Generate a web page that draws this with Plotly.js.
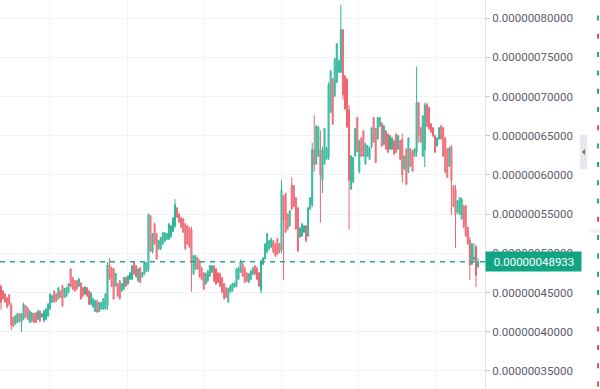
<!DOCTYPE html>
<html>
<head>
<meta charset="utf-8">
<script src="https://cdn.plot.ly/plotly-3.0.1.min.js"></script>
<style>html,body{margin:0;padding:0;background:#fff;}#chart{width:600px;height:389px;}</style>
</head>
<body>
<div id="chart"></div>
<script>
// Prices in units of 1e-9
const open = [458,452,448,443,447,434,418,410,412,423,412,416,433,430,412,414,423,424,416,426,419,414,416,420,429,438,452,448,442,452,458,444,446,451,480,469,465,465,458,462,456,448,456,452,435,432,426,439,426,429,429,429,434,485,481,480,458,461,465,452,455,469,461,467,467,488,484,465,481,470,474,477,479,548,502,537,525,506,506,512,516,518,518,521,528,535,558,550,545,544,537,535,532,530,474,480,494,490,481,475,461,465,471,476,484,480,475,474,469,461,456,438,451,452,457,458,467,476,486,481,475,463,467,474,484,481,475,453,486,493,502,506,508,516,512,518,512,504,573,576,550,535,587,586,571,558,521,522,527,535,522,557,562,632,614,624,632,593,614,620,622,680,722,701,718,731,731,785,726,722,683,582,591,624,673,604,647,656,614,624,620,636,673,659,646,662,666,639,656,652,633,633,643,652,633,643,645,608,633,604,633,630,624,629,692,660,624,632,690,686,665,660,650,637,646,662,660,647,633,611,636,586,581,553,550,544,560,560,533,517,486,492,508,483];
const high = [460,453,449,444,448,437,419,421,424,424,424,437,434,432,428,425,424,425,428,428,424,428,430,437,449,447,453,449,457,453,460,456,457,462,481,470,466,466,469,463,457,458,457,453,451,443,441,441,438,438,443,449,489,494,483,481,475,462,466,462,470,470,472,476,485,489,485,481,483,476,489,489,551,549,526,539,526,517,521,527,527,526,539,536,546,569,559,551,546,545,539,536,534,534,498,498,495,492,483,476,475,479,485,485,485,481,476,475,470,462,457,456,460,462,463,481,483,492,488,483,476,475,479,483,485,483,476,492,495,513,526,517,520,517,513,520,513,593,574,577,551,555,597,587,572,559,534,539,536,536,559,572,641,676,664,662,657,636,660,636,718,734,724,749,768,747,817,786,727,724,689,625,623,660,674,645,648,657,641,638,636,661,674,660,674,674,667,664,657,653,651,648,645,653,651,645,653,625,634,648,634,632,634,738,693,661,676,692,692,687,666,661,651,648,661,664,661,648,634,636,638,587,587,568,572,571,562,562,534,521,513,513,511,494];
const low = [428,441,437,430,433,402,406,409,411,412,400,415,418,415,411,412,411,411,415,412,418,412,415,419,428,437,437,438,441,443,432,443,444,449,457,453,451,453,457,441,444,447,444,434,434,430,425,424,425,428,428,428,428,466,457,441,457,444,441,451,453,457,460,466,466,472,469,463,462,469,472,476,476,502,500,511,492,504,504,511,514,517,517,520,527,532,545,539,532,526,504,511,507,451,472,479,479,469,466,453,460,463,470,475,463,460,462,457,449,441,443,437,449,451,456,457,466,475,470,462,463,462,466,472,472,466,457,449,485,492,500,504,507,500,495,498,500,500,466,526,530,534,555,559,530,502,520,521,526,514,521,555,559,604,613,623,539,577,613,619,619,679,664,699,717,730,730,696,683,660,530,581,590,623,629,602,623,623,613,623,619,634,641,615,645,661,636,638,632,628,632,632,625,628,632,619,590,606,587,602,610,604,623,623,641,641,623,610,661,657,653,648,628,636,645,645,623,602,596,610,549,559,507,551,549,543,532,521,511,466,485,491,457,481];
const close = [437,442,438,432,435,409,407,420,423,414,423,435,419,416,426,424,412,412,426,414,423,426,429,435,448,446,438,439,456,444,433,455,456,461,458,455,452,455,467,442,446,457,446,435,449,442,439,425,437,437,442,448,485,469,458,442,474,446,442,461,469,458,471,475,484,474,470,480,463,475,488,488,549,503,525,512,493,516,520,526,526,525,537,535,545,562,546,540,534,527,506,512,508,489,497,497,480,470,467,455,474,477,484,484,465,461,463,458,451,442,444,455,458,461,462,480,481,490,471,463,465,474,477,481,474,467,458,490,494,512,525,516,518,502,497,499,502,581,543,527,531,554,557,560,531,503,532,537,535,516,558,571,632,613,662,661,600,632,659,634,715,732,665,748,767,745,785,702,684,661,593,624,622,659,630,643,624,624,639,637,634,660,642,616,673,673,637,662,633,629,650,647,627,629,650,620,600,624,588,647,611,605,633,692,651,642,675,689,662,659,655,650,629,647,660,646,624,604,597,634,593,560,549,567,571,569,534,522,512,485,512,495,472,489.33];

const yTicks = [350,400,450,500,550,600,650,700,750,800];
const fmt = v => (v * 1e-9).toFixed(11);
const lastPrice = close[close.length - 1];
const idx = open.map((_, i) => i);

const GREEN = '#22ab94', RED = '#e8505e';

const trace = {
  type: 'candlestick',
  x: idx, open: open, high: high, low: low, close: close,
  increasing: {line: {color: '#2db497', width: 1}, fillcolor: '#7ddcc4'},
  decreasing: {line: {color: '#ec6470', width: 1}, fillcolor: '#f7a8ae'},
  whiskerwidth: 0,
  hoverinfo: 'none'
};

const shapes = [];
shapes.push({type:'line', xref:'paper', yref:'y', x0:0, x1:1, y0:lastPrice, y1:lastPrice,
  line:{color:GREEN, width:1.5, dash:'5px,5px'}});
const px = p => p / 485;
const py = p => 1 - p / 389;
shapes.push({type:'rect', xref:'paper', yref:'paper', x0:px(580), x1:px(587), y0:py(169), y1:py(135),
  fillcolor:'#e6e8ee', line:{width:0}});
shapes.push({type:'path', xref:'paper', yref:'paper',
  path:`M ${px(585)} ${py(149)} L ${px(582)} ${py(152)} L ${px(585)} ${py(155)} Z`,
  fillcolor:'#6b6e78', line:{width:0}});
shapes.push({type:'rect', xref:'paper', yref:'paper', x0:px(588), x1:px(600), y0:py(233), y1:py(229),
  fillcolor:'#f0f3fa', line:{width:0}});
const dashColors = ['g','r','g','g','g','g','r','g','g','g','g','r','g','g','g','g','g','r','r','r','r'];
dashColors.forEach((c, k) => {
  const yc = 18 + k * 18.3;
  shapes.push({type:'rect', xref:'paper', yref:'paper', x0:px(597), x1:px(599), y0:py(yc+2.5), y1:py(yc-2.5),
    fillcolor: c === 'g' ? GREEN : RED, line:{width:0}});
});

const layout = {
  width: 600, height: 389,
  margin: {l: 0, r: 115, t: 0, b: 0},
  paper_bgcolor: '#ffffff', plot_bgcolor: '#ffffff',
  showlegend: false,
  boxgap: 0.3,
  font: {family: 'Roboto, "Open Sans", sans-serif', size: 11, color: '#4f525d'},
  xaxis: {
    range: [-0.5, 236.4], rangeslider: {visible: false},
    showticklabels: false, ticks: '', tick0: 23.9, dtick: 37.65,
    showgrid: true, gridcolor: '#f2f4f8', zeroline: false, showline: false, fixedrange: true
  },
  yaxis: {
    side: 'right', range: [327, 823],
    tickvals: yTicks, ticktext: yTicks.map(fmt),
    ticks: 'outside', ticklen: 4, tickcolor: '#c8cad0', tickwidth: 1,
    showline: true, linecolor: '#e0e3eb', linewidth: 1,
    showgrid: true, gridcolor: '#f0f3fa', zeroline: false,
    tickfont: {size: 11.5, color: '#5a5d68'}, fixedrange: true
  },
  shapes: shapes,
  annotations: [{
    xref: 'paper', yref: 'y', x: 1, y: lastPrice, xanchor: 'left', yanchor: 'middle',
    text: '\u00a0\u00a0' + fmt(lastPrice), showarrow: false,
    bgcolor: '#13a583', borderpad: 2, width: 91, height: 15, align: 'left',
    font: {color: '#ffffff', size: 11.5}
  }]
};

Plotly.newPlot('chart', [trace], layout, {displayModeBar: false, staticPlot: true});
</script>
</body>
</html>
